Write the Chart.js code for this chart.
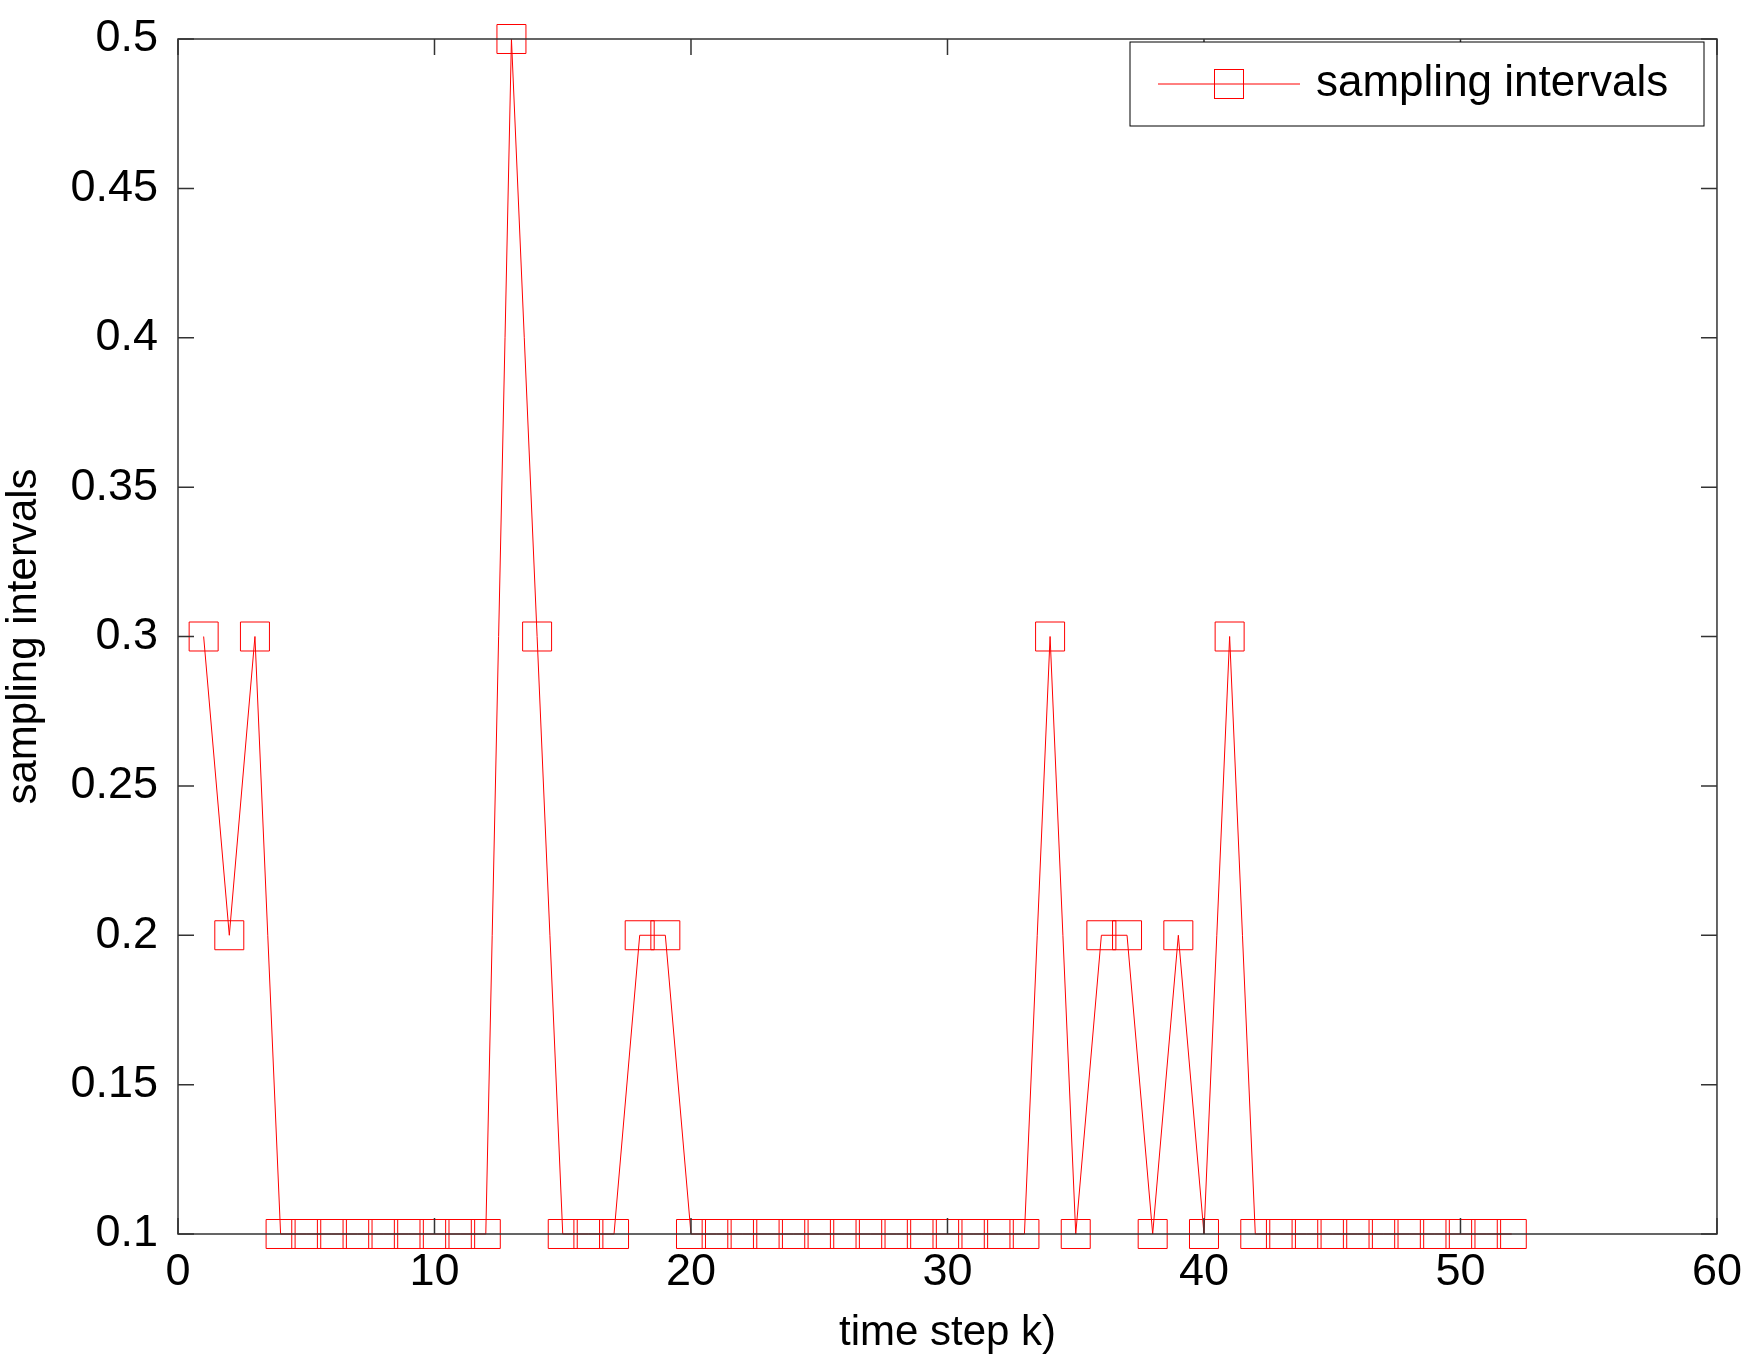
<!DOCTYPE html>
<html><head><meta charset="utf-8">
<script src="https://cdn.jsdelivr.net/npm/chart.js@4"></script>
<style>body{margin:0;background:#fff}canvas{display:block}</style>
</head><body>
<canvas id="c" width="1746" height="1358"></canvas>
<script>
const steps = [];
for (let k = 1; k <= 52; k++) steps.push(k);
const intervals = [
  0.3, 0.2, 0.3, 0.1, 0.1, 0.1, 0.1, 0.1, 0.1, 0.1,
  0.1, 0.1, 0.5, 0.3, 0.1, 0.1, 0.1, 0.2, 0.2, 0.1,
  0.1, 0.1, 0.1, 0.1, 0.1, 0.1, 0.1, 0.1, 0.1, 0.1,
  0.1, 0.1, 0.1, 0.3, 0.1, 0.2, 0.2, 0.1, 0.2, 0.1,
  0.3, 0.1, 0.1, 0.1, 0.1, 0.1, 0.1, 0.1, 0.1, 0.1,
  0.1, 0.1
];
const xTicks = [0, 10, 20, 30, 40, 50, 60];
const yTicks = [0.1, 0.15, 0.2, 0.25, 0.3, 0.35, 0.4, 0.45, 0.5];
const FONT = 'Arial, "Liberation Sans", sans-serif';

// box, inward ticks, axis titles and legend
const frame = {
  id: 'frame',
  afterDraw(chart) {
    const { ctx, chartArea: a, scales: { x, y } } = chart;
    ctx.save();
    ctx.strokeStyle = '#333';
    ctx.lineWidth = 1.5;
    ctx.strokeRect(a.left, a.top, a.right - a.left, a.bottom - a.top);
    const t = 16;
    ctx.beginPath();
    xTicks.forEach(v => {
      const px = x.getPixelForValue(v);
      ctx.moveTo(px, a.bottom); ctx.lineTo(px, a.bottom - t);
      ctx.moveTo(px, a.top); ctx.lineTo(px, a.top + t);
    });
    yTicks.forEach(v => {
      const py = y.getPixelForValue(v);
      ctx.moveTo(a.left, py); ctx.lineTo(a.left + t, py);
      ctx.moveTo(a.right, py); ctx.lineTo(a.right - t, py);
    });
    ctx.stroke();
    ctx.fillStyle = '#000';
    ctx.font = '42px ' + FONT;
    ctx.textAlign = 'center';
    ctx.textBaseline = 'middle';
    ctx.fillText('time step k)', (a.left + a.right) / 2, 1333);
    ctx.save();
    ctx.translate(24, (a.top + a.bottom) / 2);
    ctx.rotate(-Math.PI / 2);
    ctx.fillText('sampling intervals', 0, 0);
    ctx.restore();
    // legend
    const lx = 1130, ly = 42, lw = 574, lh = 84;
    ctx.fillStyle = '#fff';
    ctx.fillRect(lx, ly, lw, lh);
    ctx.strokeStyle = '#000';
    ctx.lineWidth = 1;
    ctx.strokeRect(lx, ly, lw, lh);
    const cy = ly + lh / 2;
    ctx.strokeStyle = 'red';
    ctx.beginPath(); ctx.moveTo(1158, cy); ctx.lineTo(1300, cy); ctx.stroke();
    ctx.strokeRect(1229 - 14.5, cy - 14.5, 29, 29);
    ctx.fillStyle = '#000';
    ctx.textAlign = 'left';
    ctx.font = '44px ' + FONT;
    ctx.fillText('sampling intervals', 1316, cy);
    ctx.restore();
  }
};

new Chart(document.getElementById('c'), {
  type: 'line',
  data: {
    labels: steps,
    datasets: [{
      label: 'sampling intervals',
      data: steps.map((k, i) => ({ x: k, y: intervals[i] })),
      borderColor: 'red',
      borderWidth: 1,
      pointStyle: 'rect',
      pointRadius: 20.5,
      pointBorderWidth: 1,
      pointBorderColor: 'red',
      pointBackgroundColor: 'rgba(0,0,0,0)',
      tension: 0,
      clip: false
    }]
  },
  options: {
    responsive: false,
    animation: false,
    events: [],
    layout: { padding: { top: 7, right: 24 } },
    plugins: { legend: { display: false }, tooltip: { enabled: false } },
    scales: {
      x: {
        type: 'linear', min: 0, max: 60,
        afterBuildTicks: s => { s.ticks = xTicks.map(v => ({ value: v })); },
        afterFit: s => { s.height = 124; },
        grid: { display: false },
        border: { display: false },
        ticks: { color: '#000', font: { size: 45, family: FONT }, padding: 4, maxRotation: 0 }
      },
      y: {
        min: 0.1, max: 0.5,
        afterBuildTicks: s => { s.ticks = yTicks.map(v => ({ value: v })); },
        afterFit: s => { s.width = 178; },
        grid: { display: false },
        border: { display: false },
        ticks: { color: '#000', font: { size: 45, family: FONT }, padding: 12, callback: v => String(+v.toFixed(2)) }
      }
    }
  },
  plugins: [frame]
});
</script>
</body></html>
